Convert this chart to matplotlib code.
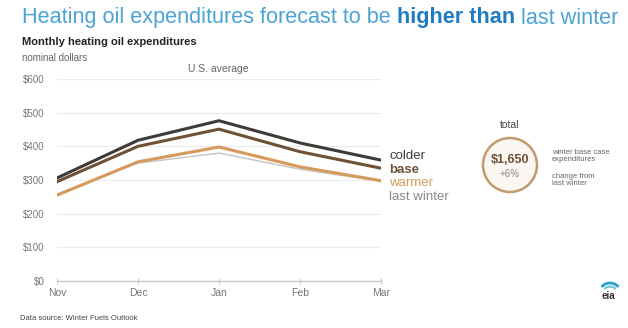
import numpy as np
import matplotlib.pyplot as plt
from matplotlib.patches import Circle, Arc

plt.rcParams['font.family'] = ['Liberation Sans', 'DejaVu Sans']

months = ['Nov', 'Dec', 'Jan', 'Feb', 'Mar']
colder = [306, 418, 476, 410, 359]
base = [295, 400, 451, 384, 335]
warmer = [255, 354, 398, 339, 298]
last_winter = [258, 350, 380, 332, 296]
yticks = [0, 100, 200, 300, 400, 500, 600]
ylabels = ['$0', '$100', '$200', '$300', '$400', '$500', '$600']

c_colder = '#3e3a36'
c_base = '#6e5238'
c_warmer = '#d59a5c'
c_last = '#c4c4c4'

fig = plt.figure(figsize=(6.28, 3.28), dpi=100)
ax = fig.add_axes([57/628, 1-281/328, (381-57)/628, (281-79)/328])

x = np.arange(len(months))
ax.plot(x, last_winter, color=c_last, lw=1.0, zorder=2)
ax.plot(x, warmer, color=c_warmer, lw=2.2, zorder=3)
ax.plot(x, base, color=c_base, lw=2.2, zorder=4)
ax.plot(x, colder, color=c_colder, lw=2.2, zorder=5)

ax.set_xlim(0, 4)
ax.set_ylim(0, 600)
ax.set_yticks(yticks)
ax.set_yticklabels(ylabels)
ax.set_xticks(x)
ax.set_xticklabels(months)
ax.grid(axis='y', color='#ececec', lw=0.8)
ax.set_axisbelow(True)
for s in ['top', 'right', 'left']:
    ax.spines[s].set_visible(False)
ax.spines['bottom'].set_color('#c8c8c8')
ax.spines['bottom'].set_linewidth(1.0)
ax.tick_params(axis='y', length=0, labelsize=7, labelcolor='#777777', pad=9)
ax.tick_params(axis='x', direction='inout', length=4, color='#c8c8c8', labelsize=7.5,
               labelcolor='#777777', pad=3)

# right-hand labels
fig.text(389/628, 1-156/328, 'colder', color=c_colder, fontsize=9.5, va='center')
fig.text(389/628, 1-170/328, 'base', color=c_base, fontsize=9.5, va='center', fontweight='bold')
fig.text(389/628, 1-183/328, 'warmer', color=c_warmer, fontsize=9.5, va='center')
fig.text(389/628, 1-197/328, 'last winter', color='#8a8a8a', fontsize=9.5, va='center')

# title
fs = 15.6
t1 = fig.text(22/628, 1-18/328, 'Heating oil expenditures forecast to be ', color='#4ba3d6',
              fontsize=fs, va='center')
fig.canvas.draw()
r = fig.canvas.get_renderer()
bb = t1.get_window_extent(r)
t2 = fig.text(bb.x1/628, 1-18/328, 'higher than', color='#1f7cc0', fontsize=fs,
              fontweight='bold', va='center')
bb2 = t2.get_window_extent(r)
fig.text(bb2.x1/628, 1-18/328, ' last winter', color='#4ba3d6', fontsize=fs, va='center')

fig.text(22/628, 1-42/328, 'Monthly heating oil expenditures', fontsize=8, fontweight='bold',
         color='#222222', va='center')
fig.text(22/628, 1-58/328, 'nominal dollars', fontsize=7, color='#666666', va='center')
fig.text(218/628, 1-69/328, 'U.S. average', fontsize=7.5, color='#666666', va='center', ha='center')
fig.text(20/628, 1-318/328, 'Data source: Winter Fuels Outlook', fontsize=5.5, color='#444444',
         va='center')

# total circle
cx, cy, rad = 510, 165, 27
cax = fig.add_axes([(cx-rad-3)/628, 1-(cy+rad+3)/328, (2*rad+6)/628, (2*rad+6)/328])
cax.set_xlim(-rad-3, rad+3)
cax.set_ylim(-rad-3, rad+3)
cax.axis('off')
cax.add_patch(Circle((0, 0), rad, facecolor='#faf7f3', edgecolor='#c39a6e', lw=1.8))
cax.text(0, 5, '$1,650', color='#6e5238', fontsize=9, fontweight='bold', ha='center', va='center')
cax.text(0, -9, '+6%', color='#8a8a8a', fontsize=7, ha='center', va='center')
fig.text(cx/628, 1-125/328, 'total', fontsize=7.5, color='#444444', ha='center', va='center')
fig.text(552/628, 1-156/328, 'winter base case\nexpenditures', fontsize=5.5, color='#666666',
         va='center', linespacing=1.1)
fig.text(552/628, 1-180/328, 'change from\nlast winter', fontsize=5.5, color='#666666',
         va='center', linespacing=1.1)

# eia logo
lax = fig.add_axes([594/628, 1-300/328, 28/628, 22/328])
lax.set_xlim(0, 28)
lax.set_ylim(0, 22)
lax.axis('off')
lax.add_patch(Arc((16, 6), 22, 22, theta1=40, theta2=140, color='#2aa0c8', lw=2))
lax.add_patch(Arc((16, 6), 15, 15, theta1=40, theta2=140, color='#6fc2d8', lw=1.5))
lax.text(14, 4, 'eia', fontsize=7, fontweight='bold', color='#333333', ha='center', va='center')

fig.savefig('out.png', dpi=100)
